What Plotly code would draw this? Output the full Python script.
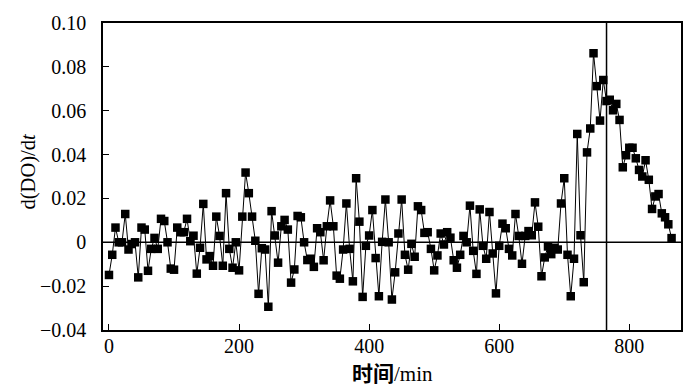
import plotly.graph_objects as go

time_min = [0, 5, 10, 15, 20, 25, 30, 35, 40, 45, 50, 55, 60, 65, 70, 75, 80, 85, 90, 95,
            100, 105, 110, 115, 120, 125, 130, 135, 140, 145, 150, 155, 160, 165, 170, 175, 180, 185, 190, 195,
            200, 205, 210, 215, 220, 225, 230, 235, 240, 245, 250, 255, 260, 265, 270, 275, 280, 285, 290, 295,
            300, 305, 310, 315, 320, 325, 330, 335, 340, 345, 350, 355, 360, 365, 370, 375, 380, 385, 390, 395,
            400, 405, 410, 415, 420, 425, 430, 435, 440, 445, 450, 455, 460, 465, 470, 475, 480, 485, 490, 495,
            500, 505, 510, 515, 520, 525, 530, 535, 540, 545, 550, 555, 560, 565, 570, 575, 580, 585, 590, 595,
            600, 605, 610, 615, 620, 625, 630, 635, 640, 645, 650, 655, 660, 665, 670, 675, 680, 685, 690, 695,
            700, 705, 710, 715, 720, 725, 730, 735, 740, 745, 750, 755, 760, 765, 770, 775, 780, 785, 790, 795,
            800, 805, 810, 815, 820, 825, 830, 835, 840, 845, 850, 855, 860, 865]

d_do_dt = [-0.0149, -0.0057, 0.0067, 0.0, 0.0, 0.0129, -0.0033, -0.0008, 0.0, -0.016,
           0.0067, 0.0058, -0.013, -0.003, 0.002, -0.003, 0.0107, 0.0097, 0.0, -0.012,
           -0.0125, 0.0067, 0.0046, 0.0046, 0.0107, 0.0005, 0.003, -0.0143, -0.0025, 0.0175,
           -0.0078, -0.0063, -0.0107, 0.0117, 0.0029, -0.0107, 0.0224, -0.003, -0.0116, 0.0,
           -0.0128, 0.0117, 0.0318, 0.0224, 0.0117, 0.0007, -0.0235, -0.0027, -0.0033, -0.0294,
           0.0142, 0.0031, -0.0093, 0.0073, 0.0102, 0.0058, -0.0184, -0.0124, 0.012, 0.0114,
           0.0, -0.0081, -0.0075, -0.0112, 0.0064, 0.0046, -0.0082, 0.0073, 0.0191, 0.0073,
           -0.0152, -0.0166, -0.0033, 0.0177, -0.003, -0.0178, 0.0292, 0.0094, -0.0249, -0.0016,
           0.0031, 0.0147, -0.0072, -0.0246, 0.0002, 0.0195, 0.0, -0.0261, -0.0137, 0.004,
           0.0195, -0.0057, -0.0125, -0.0007, -0.0066, 0.0164, 0.0147, 0.0043, 0.0046, -0.003,
           -0.0128, -0.006, 0.004, -0.001, 0.0046, 0.0021, -0.0082, -0.0116, -0.0057, 0.0029,
           0.0, 0.0167, -0.0039, -0.0144, 0.015, -0.0016, -0.0075, 0.0138, -0.0051, -0.0233,
           -0.0016, 0.0085, 0.0064, -0.003, -0.006, 0.0129, 0.0029, -0.0098, 0.0029, 0.0051,
           0.0032, 0.0182, 0.0071, -0.0155, -0.0069, -0.0019, -0.0054, -0.0025, -0.0033, 0.0177,
           0.0292, -0.0057, -0.0246, -0.0075, 0.0494, 0.0032, -0.0182, 0.041, 0.0519, 0.0862,
           0.0712, 0.0555, 0.074, 0.0644, 0.065, 0.0602, 0.0631, 0.0558, 0.0342, 0.0397,
           0.0431, 0.0431, 0.0383, 0.033, 0.03, 0.0374, 0.0285, 0.0152, 0.0209, 0.022,
           0.0132, 0.0114, 0.0082, 0.0019]

x_tick_vals = [0, 200, 400, 600, 800]
x_tick_text = ["0", "200", "400", "600", "800"]
y_tick_vals = [-0.04, -0.02, 0, 0.02, 0.04, 0.06, 0.08, 0.10]
y_tick_text = ["\u22120.04", "\u22120.02", "0", "0.02", "0.04", "0.06", "0.08", "0.10"]
x_title = "<b>时间</b>/min"
y_title = "d(DO)/d<i>t</i>"
marker_time = 765

FONT = "Liberation Serif, Times New Roman, Noto Sans CJK SC, serif"

fig = go.Figure()
fig.add_trace(go.Scatter(
    x=time_min, y=d_do_dt, mode="lines+markers",
    line=dict(color="black", width=1),
    marker=dict(symbol="square", size=8.5, color="black", line=dict(width=0)),
    showlegend=False, hoverinfo="skip",
))

fig.add_shape(type="line", xref="paper", yref="y", x0=0, x1=1, y0=0, y1=0,
              line=dict(color="black", width=1.5))
fig.add_shape(type="line", xref="x", yref="paper", x0=marker_time, x1=marker_time, y0=0, y1=1,
              line=dict(color="black", width=1.5))

fig.add_annotation(text=x_title, xref="paper", yref="paper", x=0.5, y=0,
                   xanchor="center", yanchor="middle", yshift=-44, showarrow=False,
                   font=dict(family=FONT, size=21, color="black"))
fig.add_annotation(text=y_title, xref="paper", yref="paper", x=0, y=0.5,
                   xanchor="center", yanchor="middle", xshift=-75, yshift=5,
                   textangle=-90, showarrow=False,
                   font=dict(family=FONT, size=20.5, color="black"))

fig.update_layout(
    width=700, height=390,
    margin=dict(l=103, r=19, t=14, b=60),
    plot_bgcolor="white", paper_bgcolor="white",
    font=dict(family=FONT, size=20, color="black"),
    xaxis=dict(
        range=[-9.2, 879.5], tickvals=x_tick_vals, ticktext=x_tick_text,
        ticks="inside", ticklen=6, tickwidth=1.2, tickcolor="black",
        showline=True, linecolor="black", linewidth=1.5, mirror=True,
        showgrid=False, zeroline=False, ticklabelstandoff=-3,
    ),
    yaxis=dict(
        range=[-0.04, 0.10], tickvals=y_tick_vals, ticktext=y_tick_text,
        ticks="inside", ticklen=6, tickwidth=1.2, tickcolor="black",
        showline=True, linecolor="black", linewidth=1.5, mirror=True,
        showgrid=False, zeroline=False, ticklabelstandoff=11,
    ),
)

fig.write_html("out.html", config={"displayModeBar": False},
               post_script="document.body.style.margin='0';document.body.style.overflow='hidden';")
